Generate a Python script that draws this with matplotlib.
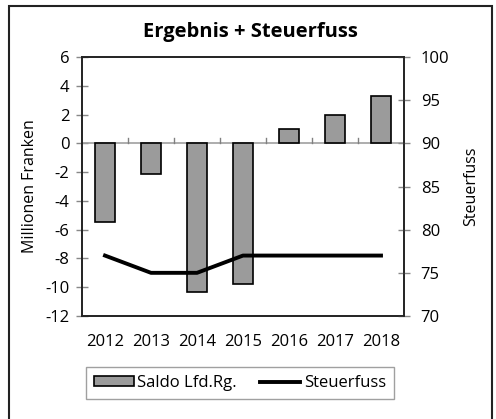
import matplotlib
matplotlib.use("Agg")
import matplotlib.pyplot as plt
from matplotlib.patches import Rectangle

years = ["2012", "2013", "2014", "2015", "2016", "2017", "2018"]
saldo = [-5.5, -2.1, -10.3, -9.8, 1.0, 2.0, 3.3]
steuerfuss = [77, 75, 75, 77, 77, 77, 77]
left_ticks = [-12, -10, -8, -6, -4, -2, 0, 2, 4, 6]
right_ticks = [70, 75, 80, 85, 90, 95, 100]

plt.rcParams['font.family'] = ['Open Sans', 'DejaVu Sans']

fig = plt.figure(figsize=(4.96, 4.19), dpi=100)
ax = fig.add_axes([82/496, 1-316/419, (404-82)/496, (316-57)/419])
ax2 = ax.twinx()

x = list(range(len(years)))
ax.bar(x, saldo, width=0.42, color='#9b9b9b', edgecolor='black', linewidth=1.2,
       label='Saldo Lfd.Rg.', zorder=3)
ax.axhline(0, color='#a0a0a0', linewidth=1.2, zorder=2)
# category boundary ticks on zero line
for b in range(1, len(years)):
    ax.plot([b - 0.5, b - 0.5], [0, 0.35], color='#808080', lw=1, zorder=2)

ax2.plot(x, steuerfuss, color='black', linewidth=2.8, label='Steuerfuss', zorder=4)

ax.set_xlim(-0.5, len(years) - 0.5)
ax.set_ylim(-12, 6)
ax2.set_ylim(70, 100)
ax.set_yticks(left_ticks)
ax.set_yticklabels([str(t) for t in left_ticks])
ax2.set_yticks(right_ticks)
ax2.set_xticks(x)
ax.set_xticks(x)
ax.set_xticklabels(years)

for a in (ax, ax2):
    for s in a.spines.values():
        s.set_color('#222222')
        s.set_linewidth(1.2)
ax.tick_params(axis='y', direction='inout', length=8, width=1, color='#888888',
               labelsize=12, pad=5)
ax2.tick_params(axis='y', direction='inout', length=8, width=1, color='#888888',
                labelsize=12, pad=8)
ax.tick_params(axis='x', length=0, labelsize=12, pad=13)
ax2.tick_params(axis='x', length=0)

ax.set_ylabel('Millionen Franken', fontsize=11.5, labelpad=5)
ax2.set_ylabel('Steuerfuss', fontsize=11.5, labelpad=10)
fig.text(0.505, 1-32/419, 'Ergebnis + Steuerfuss', ha='center', va='center',
         fontsize=14.5, fontweight='bold')

h1, l1 = ax.get_legend_handles_labels()
h2, l2 = ax2.get_legend_handles_labels()
leg = fig.legend(h1 + h2, l1 + l2, loc='center', bbox_to_anchor=(240/496, 1-383/419),
                 ncol=2, frameon=True, fancybox=False, fontsize=12,
                 handlelength=2.4, handleheight=0.5, handletextpad=0.2,
                 columnspacing=1.4, borderpad=0.5)
leg.get_frame().set_edgecolor('#888888')
leg.get_frame().set_linewidth(1.0)

fig.patches.append(Rectangle((9/496, -0.05), (492-9)/496, 1.05 - 6/419,
                             transform=fig.transFigure, fill=False,
                             edgecolor='#222222', linewidth=1.5))

fig.savefig('out.png', dpi=100)
